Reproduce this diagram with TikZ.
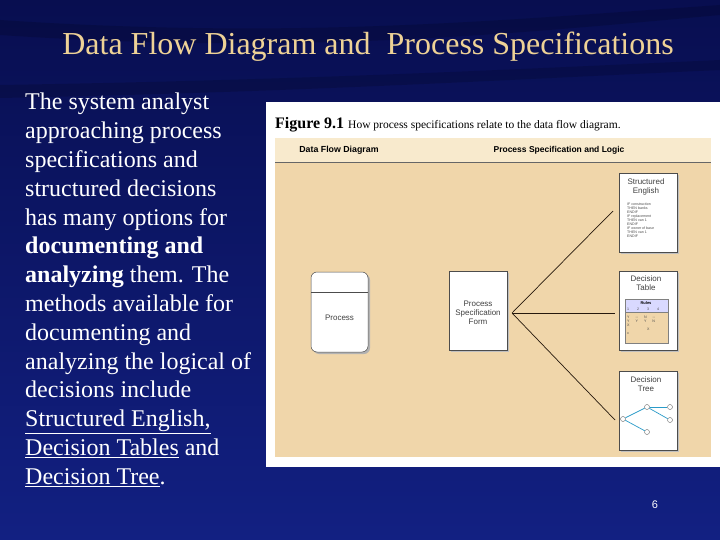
\documentclass[tikz,border=0pt]{standalone}
\usepackage{fontspec}
\setmainfont{Liberation Serif}
\newfontfamily\figsans{Liberation Sans}
\newcommand\myul[1]{\underline{#1}}
\begin{document}
\begin{tikzpicture}[x=1pt,y=-1pt,
  doc/.style={draw=black!70,fill=white,line width=0.5pt},
  lnk/.style={draw=black!80!brown,line width=0.7pt},
  tiny/.style={font=\figsans\fontsize{3.6}{4}\selectfont,align=left,inner sep=0pt,anchor=north west,text=black!70},
  small/.style={font=\figsans\fontsize{8}{9}\selectfont,align=center,text=black!75,inner sep=0pt},
  tnode/.style={circle,draw=black!60,fill=white,inner sep=0pt,minimum size=5pt},
  tedge/.style={draw=cyan!60!teal,line width=0.7pt}]
\definecolor{bgA}{RGB}{8,14,80}
\definecolor{bgB}{RGB}{18,32,130}
\definecolor{titlec}{RGB}{238,210,150}
\definecolor{tan}{RGB}{240,214,170}
\definecolor{band}{RGB}{248,234,205}
\useasboundingbox (0,0) rectangle (720,540);
\shade[top color=bgA,bottom color=bgB] (0,0) rectangle (720,540);
\fill[black,opacity=0.15] (0,20) .. controls (300,40) and (500,20) .. (720,5) -- (720,15) .. controls (500,35) and (300,55) .. (0,35) -- cycle;
\fill[black,opacity=0.15] (0,85) .. controls (300,80) and (500,70) .. (720,60) -- (720,70) .. controls (500,80) and (300,92) .. (0,98) -- cycle;
\node[text=titlec,font=\fontsize{32}{34}\selectfont] (title) at (368,47) {Data Flow Diagram and\ \ Process Specifications};
\node[text=white,font=\fontsize{24}{28.8}\selectfont,align=left,anchor=north west,inner sep=0pt] (body) at (25,93) {The system analyst\\approaching process\\specifications and\\structured decisions\\has many options for\\\textbf{documenting and}\\\textbf{analyzing} them. The\\methods available for\\documenting and\\analyzing the logical of\\decisions include\\\myul{Structured English,}\\\myul{Decision Tables} and\\\myul{Decision Tree}.};
% figure
\fill[white] (266,102) rectangle (720,467);
\node[anchor=west,inner sep=0pt] (cap) at (275,125) {\fontsize{16}{17}\selectfont\textbf{Figure 9.1}\ \fontsize{11.5}{12}\selectfont How process specifications relate to the data flow diagram.};
\fill[band] (275,138) rectangle (711,162);
\fill[tan] (275,162) rectangle (711,457);
\draw[black!60,line width=0.6pt] (275,162) -- (711,162);
\node[font=\figsans\bfseries\fontsize{8.8}{10}\selectfont,inner sep=0pt] (h1) at (339,150) {Data Flow Diagram};
\node[font=\figsans\bfseries\fontsize{8.5}{10}\selectfont,inner sep=0pt] (h2) at (559,150) {Process Specification and Logic};
% process
\fill[black!30,rounded corners=6pt] (313,274) rectangle (370,354);
\draw[doc,rounded corners=6pt] (311,272) rectangle (368,352);
\draw[black!70,line width=0.5pt] (311,292) -- (368,292);
\node[small] (proc) at (339.5,318) {Process};
% PSF
\fill[black!25] (451,273) rectangle (509,352);
\node[doc,minimum width=58pt,minimum height=79pt,inner sep=0pt] (psf) at (478,310.5) {};
\node[small] (psft) at (478,313) {Process\\Specification\\Form};
\coordinate (hub) at (512,313);
% right docs
\foreach \n/\y in {se/173,dt/271,tr/371}{
  \fill[black!25] (621,\y+2) rectangle (679,\y+81);
  \node[doc,minimum width=58pt,minimum height=79pt,inner sep=0pt,anchor=north west] (\n) at (619,\y) {};
}
\coordinate (e1) at (613,211);
\coordinate (e2) at (615,313);
\coordinate (e3) at (615,420);
\draw[lnk] (hub) -- (e1);
\draw[lnk] (hub) -- (e2);
\draw[lnk] (hub) -- (e3);
\node[small] (set) at (646,187) {Structured\\English};
\node[tiny] (sel) at (627,203) {IF construction\\THEN banks\\ENDIF\\IF replacement\\THEN van 1\\ENDIF\\IF owner of base\\THEN van 1\\ENDIF};
\node[small] (dtt) at (646,283) {Decision\\Table};
\fill[tan] (625,299) rectangle (668,343);
\fill[blue!15] (625,299) rectangle (668,312);
\draw[black!50,line width=0.4pt] (625,299) rectangle (668,343) (625,312) -- (668,312);
\node[font=\figsans\bfseries\fontsize{4}{4}\selectfont,inner sep=0pt] (rules) at (646,303) {Rules};
\node[tiny] (dtr) at (627,307.5) {1\hspace{8pt}2\hspace{8pt}3\hspace{8pt}4};
\node[tiny] (dtv) at (627,316) {Y\hspace{6pt}--\hspace{6pt}N\hspace{6pt}--\\Y\hspace{6pt}Y\hspace{6pt}Y\hspace{6pt}N\\X\\\hspace{20pt}X\\x};
\node[small] (trt) at (646,384) {Decision\\Tree};
\node[tnode] (t0) at (623,419) {};
\node[tnode] (t1) at (647,407) {};
\node[tnode] (t2) at (670,407) {};
\node[tnode] (t3) at (670,420) {};
\node[tnode] (t4) at (647,432) {};
\draw[tedge] (t0) -- (t1); \draw[tedge] (t1) -- (t2); \draw[tedge] (t1) -- (t3); \draw[tedge] (t0) -- (t4);
\node[text=white,font=\figsans\fontsize{11}{12}\selectfont] (pg) at (655,505) {6};
\end{tikzpicture}
\end{document}
